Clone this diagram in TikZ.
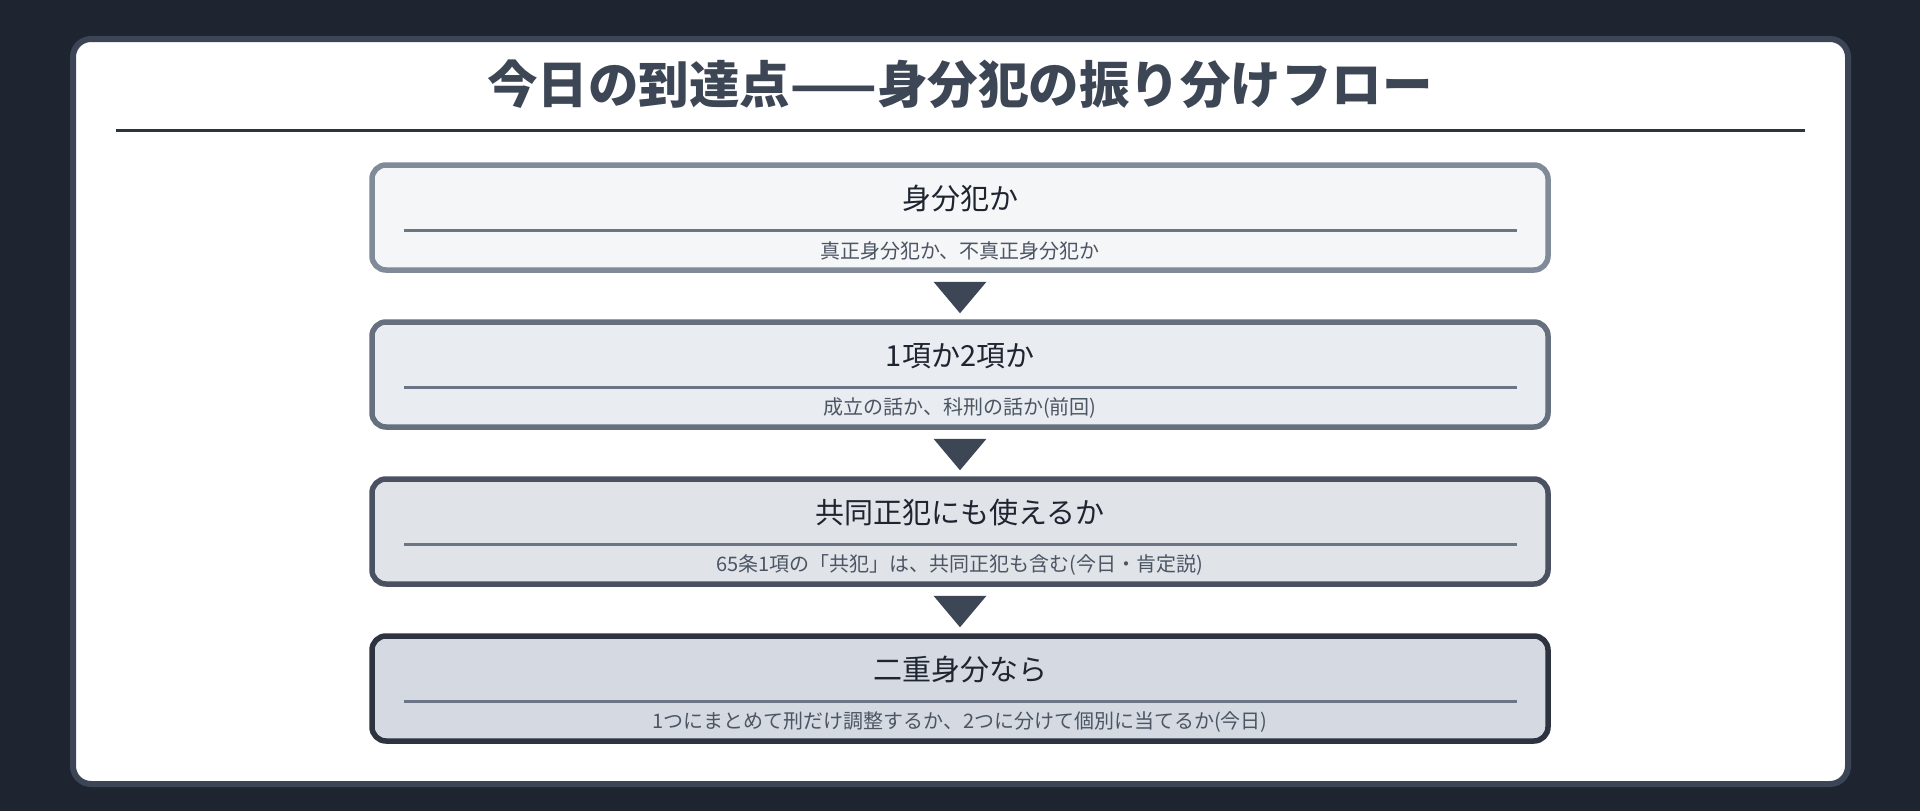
\documentclass[tikz,border=0pt]{standalone}
\usepackage{fontspec}
\setmainfont{Noto Sans CJK JP}
\usepackage{tikz}
\usetikzlibrary{calc}

\definecolor{bgdark}{HTML}{1E2530}
\definecolor{cardedge}{HTML}{3B4555}
\definecolor{titleink}{HTML}{3D4655}
\definecolor{titlerule}{HTML}{2D3440}
\definecolor{fillone}{HTML}{F5F6F8}
\definecolor{edgeone}{HTML}{808A98}
\definecolor{filltwo}{HTML}{E9ECF0}
\definecolor{edgetwo}{HTML}{656F7D}
\definecolor{fillthree}{HTML}{E0E3E8}
\definecolor{edgethree}{HTML}{4A5261}
\definecolor{fillfour}{HTML}{D5DAE2}
\definecolor{edgefour}{HTML}{2D3440}
\definecolor{rulegray}{HTML}{6B7585}
\definecolor{maintext}{HTML}{1F2530}
\definecolor{subgray}{HTML}{4B5563}
\definecolor{tipslate}{HTML}{3D4655}

\begin{document}
\begin{tikzpicture}[x=1pt,y=1pt,yscale=-1,
  stepbox/.style={draw, rounded corners=14pt, line width=5.5pt, minimum width=1176pt, minimum height=105pt, inner sep=0pt},
  headtext/.style={font=\fontsize{29}{34}\selectfont, text=maintext, inner sep=0pt},
  subtext/.style={font=\fontsize{20}{24}\selectfont, text=subgray, inner sep=0pt},
  steprule/.style={draw=rulegray, line width=3pt},
  flowtip/.style={fill=tipslate}]
\useasboundingbox (0,0) rectangle (1920,811);
\fill[bgdark] (0,0) rectangle (1920,811);

%Shape: Card
\draw[cardedge, fill=white, line width=6pt, rounded corners=18pt] (73,39) rectangle (1848,784);

% Text Node
\node[font=\fontsize{50.5}{58}\selectfont\bfseries, text=titleink, inner sep=0pt] (title) at (960,84.5) {今日の到達点——身分犯の振り分けフロー};
%Straight Lines
\draw[titlerule, line width=3pt] (116,130.5) -- (1805,130.5);

%Shape: Steps
\node[stepbox, fill=fillone, draw=edgeone] (b1) at (960,217.5) {};
\node[stepbox, fill=filltwo, draw=edgetwo] (b2) at (960,374.5) {};
\node[stepbox, fill=fillthree, draw=edgethree] (b3) at (960,531.5) {};
\node[stepbox, fill=fillfour, draw=edgefour] (b4) at (960,688.5) {};

% Text Node
\node[headtext] (h1) at ($(b1.center)+(0,-18.5)$) {身分犯か};
\node[headtext] (h2) at ($(b2.center)+(0,-18.5)$) {1項か2項か};
\node[headtext] (h3) at ($(b3.center)+(0,-18.5)$) {共同正犯にも使えるか};
\node[headtext] (h4) at ($(b4.center)+(0,-18.5)$) {二重身分なら};
% Text Node
\node[subtext] (s1) at ($(b1.center)+(0,33.5)$) {真正身分犯か、不真正身分犯か};
\node[subtext] (s2) at ($(b2.center)+(0,33.5)$) {成立の話か、科刑の話か(前回)};
\node[subtext] (s3) at ($(b3.center)+(0,33.5)$) {65条1項の「共犯」は、共同正犯も含む(今日・肯定説)};
\node[subtext] (s4) at ($(b4.center)+(0,33.5)$) {1つにまとめて刑だけ調整するか、2つに分けて個別に当てるか(今日)};

%Straight Lines
\draw[steprule] ($(b1.west)+(35,13)$) -- ($(b1.east)+(-34,13)$);
\draw[steprule] ($(b2.west)+(35,13)$) -- ($(b2.east)+(-34,13)$);
\draw[steprule] ($(b3.west)+(35,13)$) -- ($(b3.east)+(-34,13)$);
\draw[steprule] ($(b4.west)+(35,13)$) -- ($(b4.east)+(-34,13)$);

%Shape: Triangles
\fill[flowtip] ($(b1.south)+(-26.5,9)$) -- ($(b1.south)+(26.5,9)$) -- ($(b2.north)+(0,-6)$) -- cycle;
\fill[flowtip] ($(b2.south)+(-26.5,9)$) -- ($(b2.south)+(26.5,9)$) -- ($(b3.north)+(0,-6)$) -- cycle;
\fill[flowtip] ($(b3.south)+(-26.5,9)$) -- ($(b3.south)+(26.5,9)$) -- ($(b4.north)+(0,-6)$) -- cycle;

\end{tikzpicture}
\end{document}
